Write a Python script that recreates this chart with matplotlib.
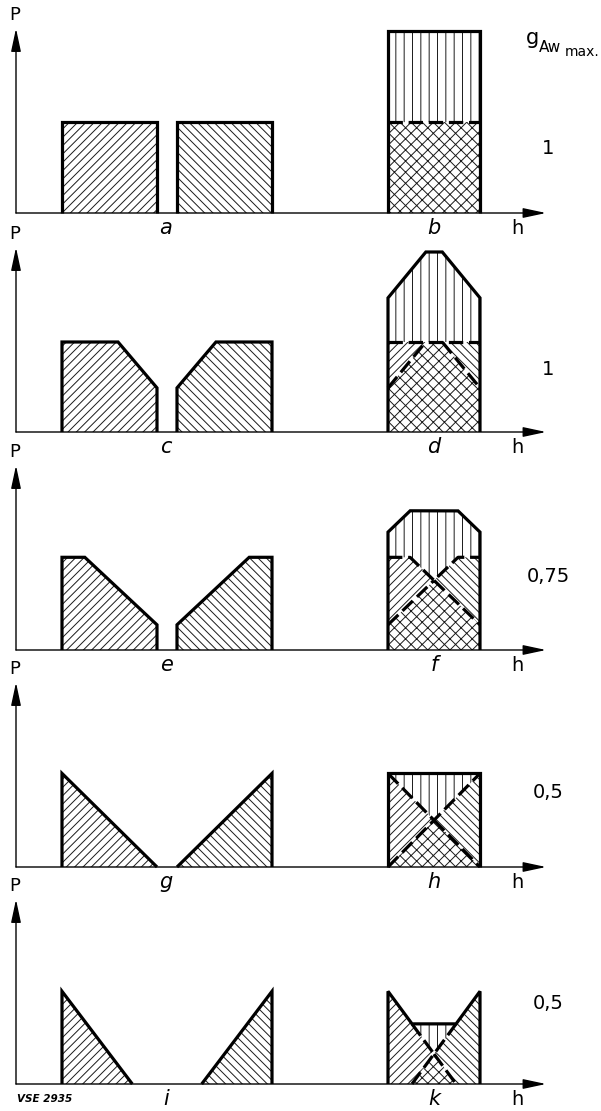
import numpy as np
import matplotlib.pyplot as plt

plt.rcParams['hatch.linewidth'] = 0.7

# load curve of the left unit in each case: time fraction of its span / P
# (the second unit runs the same curve mirrored in time)
left_labels = ['a', 'c', 'e', 'g', 'i']
sum_labels = ['b', 'd', 'f', 'h', 'k']
g_aw_max = ['1', '1', '0,75', '0,5', '0,5']

prof_t = [
    [0.0, 1.0],
    [0.0, 0.59, 1.0],
    [0.0, 0.24, 1.0],
    [0.0, 1.0],
    [0.0, 0.74],
]
prof_p = [
    [1.01, 1.01],
    [1.0, 1.0, 0.49],
    [1.03, 1.03, 0.28],
    [1.04, 0.0],
    [1.03, 0.0],
]

# layout (x in figure pixels, y in units of P)
BASELINES = [213, 432, 650, 867, 1084]
UNIT = 90.0
LEFT_SPAN = (62, 157)
RIGHT_SPAN = (177, 272)
SUM_SPAN = (388, 480)
X_AXIS = 16
X_TIP = 546
Y_TIP = 2.05
NUM_Y = [0.72, 0.70, 0.82, 0.83, 0.89]
LW = 2.3
HC = '#1a1a1a'


def left_curve(t, tp, pp):
    return np.interp(t, tp, pp, left=0.0, right=0.0)


def shape_outline(ax, x0, x1, tp, pp, mirror=False):
    tp = np.asarray(tp)
    pp = np.asarray(pp)
    if mirror:
        tp = 1.0 - tp[::-1]
        pp = pp[::-1]
    xs = x0 + (x1 - x0) * tp
    ax.plot(np.r_[xs[0], xs, xs[-1]], np.r_[0, pp, 0], color='k', lw=LW,
            solid_joinstyle='miter', solid_capstyle='butt', zorder=5)


def hatched(ax, x, y0, y1, hatch, where=None):
    ax.fill_between(x, y0, y1, where=where, interpolate=True, facecolor='none',
                    edgecolor=HC, hatch=hatch, lw=0, zorder=2)


fig = plt.figure(figsize=(6.01, 11.11), dpi=100)
fig.patch.set_facecolor('white')

for i in range(5):
    b = BASELINES[i]
    ax = fig.add_axes([0, 1 - (b + 20) / 1111, 1, 225 / 1111])
    ax.set_xlim(0, 601)
    ax.set_ylim(-20 / UNIT, 205 / UNIT)
    ax.set_axis_off()
    ax.patch.set_alpha(0)

    tp, pp = prof_t[i], prof_p[i]

    # axes with arrows
    ax.annotate('', xy=(X_AXIS, Y_TIP), xytext=(X_AXIS, 0),
                arrowprops=dict(arrowstyle='-|>,head_length=1.4,head_width=0.3',
                                lw=1.0, color='k', shrinkA=0, shrinkB=0))
    ax.annotate('', xy=(X_TIP, 0), xytext=(X_AXIS, 0),
                arrowprops=dict(arrowstyle='-|>,head_length=1.4,head_width=0.3',
                                lw=1.0, color='k', shrinkA=0, shrinkB=0))
    ax.text(X_AXIS - 1, Y_TIP + 0.05, 'P', fontsize=13, ha='center', va='bottom')
    ax.text(517, -0.17, 'h', fontsize=14, ha='center', va='center')

    # single units
    t = np.linspace(0, 1, 801)
    L = left_curve(t, tp, pp)
    R = left_curve(1 - t, tp, pp)
    xl = LEFT_SPAN[0] + (LEFT_SPAN[1] - LEFT_SPAN[0]) * t
    xr = RIGHT_SPAN[0] + (RIGHT_SPAN[1] - RIGHT_SPAN[0]) * t
    hatched(ax, xl, 0, L, '////')
    hatched(ax, xr, 0, R, '\\\\\\\\')
    shape_outline(ax, LEFT_SPAN[0], LEFT_SPAN[1], tp, pp)
    shape_outline(ax, RIGHT_SPAN[0], RIGHT_SPAN[1], tp, pp, mirror=True)

    # both units together
    xs = SUM_SPAN[0] + (SUM_SPAN[1] - SUM_SPAN[0]) * t
    lo = np.minimum(L, R)
    hi = np.maximum(L, R)
    s = L + R
    hatched(ax, xs, 0, lo, 'xxx')
    hatched(ax, xs, lo, hi, '////', where=L >= R)
    hatched(ax, xs, lo, hi, '\\\\\\\\', where=R > L)
    hatched(ax, xs, hi, s, '||')
    ax.plot(np.r_[xs[0], xs, xs[-1]], np.r_[0, s, 0], color='k', lw=LW,
            solid_joinstyle='miter', solid_capstyle='butt', zorder=5)
    eps = 1e-9
    hi_d = np.where(lo > eps, hi, np.nan)
    lo_d = np.where((lo > eps) & (hi - lo > eps), lo, np.nan)
    for yy in (hi_d, lo_d):
        ax.plot(xs, yy, color='k', lw=LW, dashes=(4.5, 1.8),
                dash_capstyle='butt', zorder=4)

    ax.text(166, -0.17, left_labels[i], fontsize=15, style='italic',
            ha='center', va='center')
    ax.text(434, -0.17, sum_labels[i], fontsize=15, style='italic',
            ha='center', va='center')
    ax.text(548, NUM_Y[i], g_aw_max[i], fontsize=14, ha='center', va='center')

    if i == 0:
        ax.text(526, 1.88, 'g', fontsize=15, ha='left', va='baseline')
        ax.text(539, 1.79, 'Aw', fontsize=11, ha='left', va='baseline')
        ax.text(565, 1.75, 'max.', fontsize=10, ha='left', va='baseline')
    if i == 4:
        ax.text(17, -0.17, 'VSE 2935', fontsize=7.5, style='italic',
                weight='bold', ha='left', va='center')

fig.savefig('out.png', dpi=100, facecolor='white')
